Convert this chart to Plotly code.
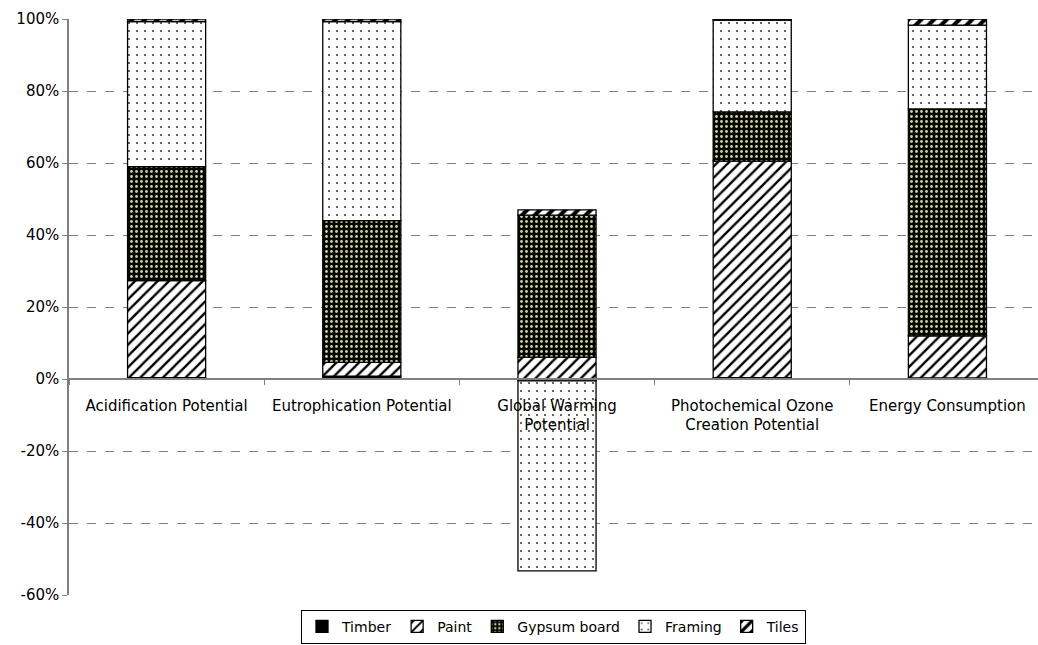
import plotly.graph_objects as go

# Share of each building material in each impact category (%)
categories = [
    "Acidification Potential",
    "Eutrophication Potential",
    "Global Warming<br>Potential",
    "Photochemical Ozone<br>Creation Potential",
    "Energy Consumption",
]
timber = [0.4, 0.8, -0.5, 0.4, 0.3]
paint = [26.9, 3.8, 6.1, 60.1, 11.7]
gypsum_board = [31.7, 39.4, 39.4, 13.7, 63.0]
framing = [40.3, 55.3, -52.8, 25.5, 23.3]
tiles = [0.7, 0.7, 1.5, 0.3, 1.7]

y_ticks = [-60, -40, -20, 0, 20, 40, 60, 80, 100]

FONT = "DejaVu Sans, Liberation Sans, Arial, sans-serif"
FONT_SIZE = 15
outline = dict(color="black", width=1.3)

series = [
    ("Timber", timber, dict(color="black", line=outline)),
    ("Paint", paint, dict(color="white", line=outline,
                          pattern=dict(shape="/", fgcolor="black", bgcolor="white",
                                       size=8, solidity=0.3, fillmode="replace"))),
    ("Gypsum board", gypsum_board, dict(color="black", line=outline,
                                        pattern=dict(shape=".", fgcolor="#d2d29f", bgcolor="#050500",
                                                     size=5, solidity=0.25, fillmode="replace"))),
    ("Framing", framing, dict(color="white", line=outline,
                              pattern=dict(shape=".", fgcolor="#444444", bgcolor="white",
                                           size=8, solidity=0.06, fillmode="replace"))),
    ("Tiles", tiles, dict(color="white", line=outline,
                          pattern=dict(shape="/", fgcolor="black", bgcolor="white",
                                       size=9, solidity=0.45, fillmode="replace"))),
]

fig = go.Figure()
for name, values, marker in series:
    fig.add_trace(go.Bar(name=name, x=categories, y=values, marker=marker))

y_min, y_max = -60, 100

fig.update_layout(
    barmode="relative",
    bargap=0.6,
    width=1038,
    height=645,
    margin=dict(l=69, r=0, t=19, b=50, autoexpand=False),
    paper_bgcolor="white",
    plot_bgcolor="white",
    font=dict(family=FONT, size=FONT_SIZE, color="black"),
    showlegend=True,
    legend=dict(
        orientation="h",
        x=0.5, xanchor="center",
        yref="container",
        y=0.002, yanchor="bottom",
        bordercolor="black", borderwidth=1,
        bgcolor="white",
        font=dict(family=FONT, size=14, color="black"),
        itemwidth=30,
        traceorder="normal",
    ),
    xaxis=dict(
        type="category",
        range=[-0.5, 4.464],
        anchor="free",
        position=(0 - y_min) / (y_max - y_min),
        showline=True, linecolor="#808080", linewidth=1.5,
        ticks="outside", tickson="boundaries", ticklen=5, tickcolor="#808080",
        ticklabelstandoff=13,
        showgrid=False,
        tickfont=dict(family=FONT, size=FONT_SIZE, color="black"),
    ),
    yaxis=dict(
        range=[y_min, y_max],
        tickvals=y_ticks,
        ticktext=[f"{v}%" for v in y_ticks],
        showline=True, linecolor="#808080", linewidth=1.5,
        ticks="outside", ticklen=5, tickcolor="#808080",
        showgrid=True, gridcolor="#808080", gridwidth=1, griddash="dash",
        zeroline=False,
        tickfont=dict(family=FONT, size=FONT_SIZE, color="black"),
    ),
)

fig.write_html("out.html")
